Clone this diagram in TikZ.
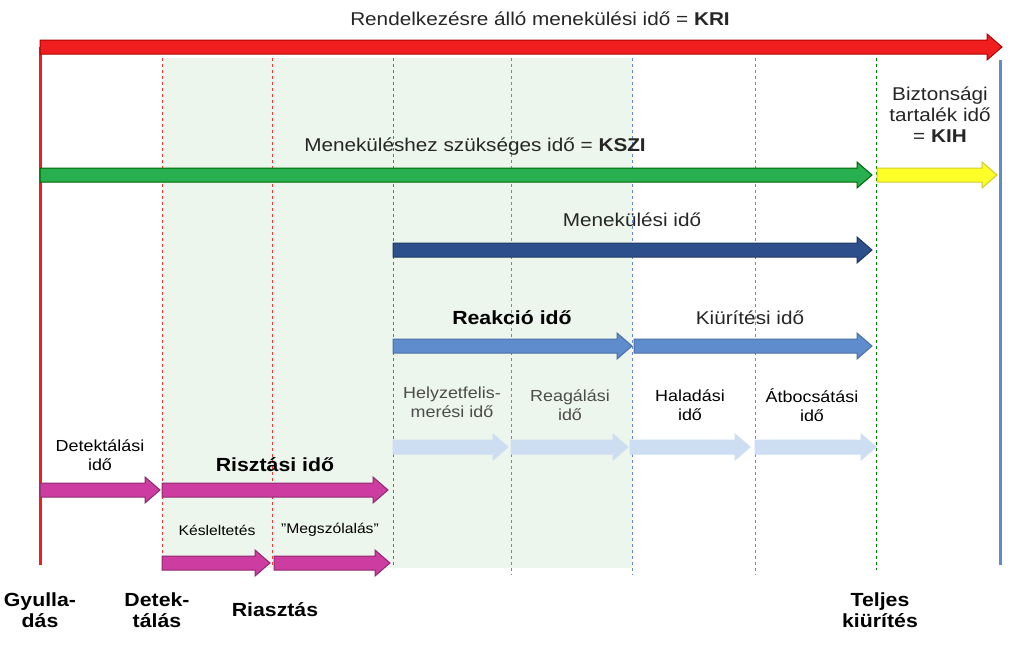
\documentclass[tikz,border=0pt]{standalone}
\usepackage{fontspec}
\setmainfont[FakeStretch=1.12]{Liberation Sans}
\definecolor{cred}{RGB}{240,30,30}
\definecolor{cgreen}{RGB}{40,175,80}
\definecolor{cyel}{RGB}{255,255,40}
\definecolor{cdblue}{RGB}{45,80,140}
\definecolor{cblue}{RGB}{95,140,205}
\definecolor{clblue}{RGB}{205,222,242}
\definecolor{cmag}{RGB}{205,60,160}
\definecolor{cbg}{RGB}{236,246,236}
\newcommand{\farrow}[5]{\filldraw[fill=#4,draw=#5,line width=1pt,line join=miter] (#1,#3-7) -- (#2-15,#3-7) -- (#2-15,#3-13) -- (#2,#3) -- (#2-15,#3+13) -- (#2-15,#3+7) -- (#1,#3+7) -- cycle;}
\begin{document}
\begin{tikzpicture}[x=1pt,y=-1pt,
  lbl/.style={font=\fontsize{18.5}{21}\selectfont,align=center,text=black!85},
  blbl/.style={font=\fontsize{19}{21}\selectfont\bfseries,align=center},
  slbl/.style={font=\fontsize{16}{19}\selectfont,align=center},
  vd/.style={dashed,line width=0.8pt}]
\useasboundingbox (0,0) rectangle (1023,646);
\fill[white] (0,0) rectangle (1023,646);
\fill[cbg] (162,58) rectangle (632,568);
\foreach \x in {162,272,393} \draw[vd,red!80] (\x,58) -- (\x,568);
\foreach \x in {511,632,755} \draw[vd,cblue] (\x,58) -- (\x,575);
\draw[vd,green!50!black] (876,58) -- (876,570);
\draw[line width=3pt,cblue] (1000,60) -- (1000,565);
\draw[line width=3pt,cred] (40,47) -- (40,565);
\node[lbl] (t) at (540,19) {Rendelkezésre álló menekülési idő = \textbf{KRI}};
\farrow{40}{1002}{47}{cred}{red!70!black}
\node[lbl] (ks) at (475,147) {Meneküléshez szükséges idő = \textbf{KSZI}};
\farrow{40}{872}{175}{cgreen}{green!40!black}
\farrow{877}{997}{175}{cyel}{yellow!80!black}
\node[lbl] (kih) at (940,115) {Biztonsági\\tartalék idő\\= \textbf{KIH}};
\node[lbl] (mi) at (632,220) {Menekülési idő};
\farrow{393}{872}{250}{cdblue}{cdblue!70!black}
\node[blbl] (ri) at (512,318) {Reakció idő};
\node[lbl] (ki) at (750,318) {Kiürítési idő};
\farrow{393}{632}{346}{cblue}{cblue!80!black}
\farrow{634}{872}{346}{cblue}{cblue!80!black}
\node[slbl,text=black!70] (h1) at (452,402) {Helyzetfelis-\\merési idő};
\node[slbl,text=black!70] (h2) at (570,405) {Reagálási\\idő};
\node[slbl] (h3) at (690,405) {Haladási\\idő};
\node[slbl] (h4) at (812,405) {Átbocsátási\\idő};
\farrow{393}{508}{447}{clblue}{clblue}
\farrow{511}{628}{447}{clblue}{clblue}
\farrow{630}{750}{447}{clblue}{clblue}
\farrow{755}{876}{447}{clblue}{clblue}
\node[slbl] (d1) at (100,455) {Detektálási\\idő};
\node[blbl] (d2) at (275,465) {Risztási idő};
\farrow{40}{160}{490}{cmag}{cmag!70!black}
\farrow{162}{388}{490}{cmag}{cmag!70!black}
\node[font=\fontsize{14}{16}\selectfont] (k1) at (217,530) {Késleltetés};
\node[font=\fontsize{14}{16}\selectfont] (k2) at (330,530) {"Megszólalás"};
\farrow{162}{270}{563}{cmag}{cmag!70!black}
\farrow{274}{390}{563}{cmag}{cmag!70!black}
\node[blbl] (b1) at (40,610) {Gyulla-\\dás};
\node[blbl] (b2) at (157,610) {Detek-\\tálás};
\node[blbl] (b3) at (275,610) {Riasztás};
\node[blbl] (b4) at (880,610) {Teljes\\kiürítés};
\end{tikzpicture}
\end{document}
